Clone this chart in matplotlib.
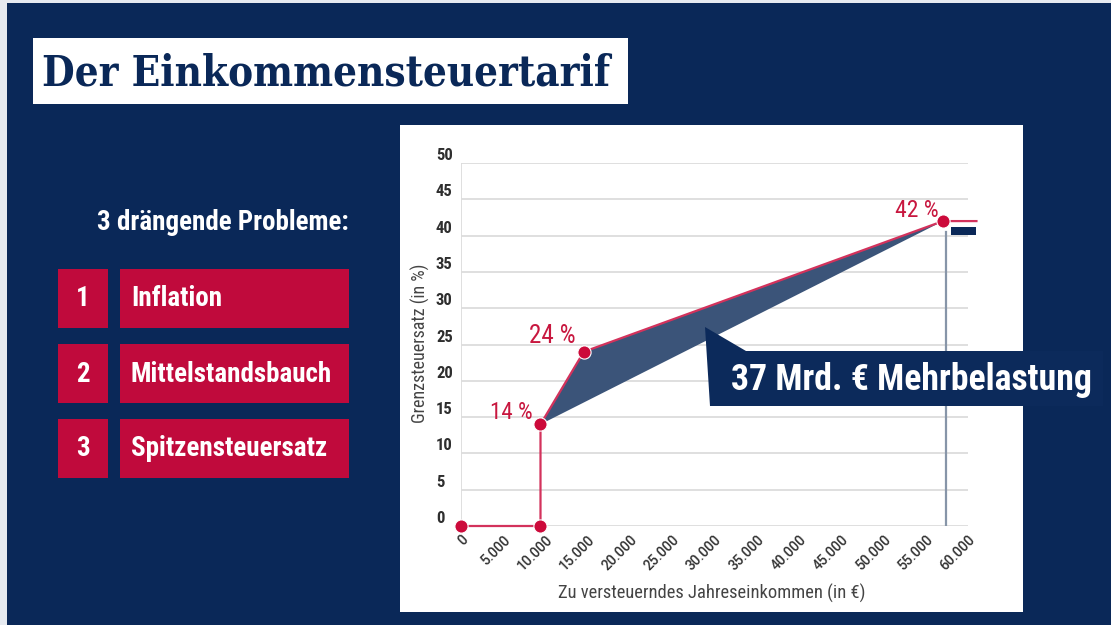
import matplotlib
matplotlib.use("Agg")
import matplotlib.pyplot as plt
from matplotlib import font_manager as fm
from matplotlib.patches import Rectangle, Polygon

# ---------------- data ----------------
income = [0, 9408, 9408, 14532, 57051]          # € (Eckwerte)
rate = [0, 0, 14, 24, 42]                        # Grenzsteuersatz in %
top_rate_end = 61000                             # line continues at 42 %
ref_line_x = 57400                               # grey reference line
point_labels = ["", "", "14 %", "24 %", "42 %"]
x_ticks = list(range(0, 60001, 5000))
x_tick_labels = ["0", "5.000", "10.000", "15.000", "20.000", "25.000", "30.000",
                 "35.000", "40.000", "45.000", "50.000", "55.000", "60.000"]
y_ticks = list(range(0, 51, 5))
problems = ["Inflation", "Mittelstandsbauch", "Spitzensteuersatz"]
problem_nums = ["1", "2", "3"]
title = "Der Einkommensteuertarif"
subtitle = "3 drängende Probleme:"
callout = "37 Mrd. € Mehrbelastung"
xlabel = "Zu versteuerndes Jahreseinkommen (in €)"
ylabel = "Grenzsteuersatz (in %)"

# ---------------- style ----------------
names = {f.name for f in fm.fontManager.ttflist}
COND = "Roboto Condensed" if "Roboto Condensed" in names else "Roboto"
SLAB = "Roboto Slab" if "Roboto Slab" in names else "DejaVu Serif"

NAVY = "#0A2858"
RED = "#C00A3C"
LINE_RED = "#D3325C"
FILL = "#3B5479"
W, H = 1111, 625

fig = plt.figure(figsize=(W / 100, H / 100), dpi=100, facecolor=NAVY)


def fx(x):
    return x / W


def fy(y):
    return 1 - y / H


def rect(x0, y0, x1, y1, color, z=1, **kw):
    r = Rectangle((fx(x0), fy(y1)), fx(x1) - fx(x0), fy(y0) - fy(y1),
                  transform=fig.transFigure, facecolor=color, edgecolor="none",
                  zorder=z, **kw)
    fig.add_artist(r)
    return r


def ftext(x, y, s, **kw):
    return fig.text(fx(x), fy(y), s, **kw)


def fit(t, target, vertical=False):
    r = fig.canvas.get_renderer()
    bb = t.get_window_extent(r)
    cur = bb.height if vertical else bb.width
    t.set_fontsize(t.get_fontsize() * target / cur)


# light border strips of the screenshot
rect(0, 0, 7, 625, "#E6EAF0", z=-2)
rect(0, 0, 1111, 3, "#E6EAF0", z=-2)

# title box
rect(33, 38, 628, 104, "white", z=-1)
t_title = ftext(42, 73, title, family=SLAB, fontweight="bold", color=NAVY,
                fontstretch="condensed", fontsize=28, va="center", ha="left")

# left problem list
t_sub = ftext(97, 222, subtitle, family=COND, fontweight="bold", color="white",
              fontsize=17, va="center", ha="left")
row_tops = [269, 344, 419]
item_texts = []
num_texts = []
for top, num, lab in zip(row_tops, problem_nums, problems):
    rect(58, top, 108, top + 59, RED, z=-1)
    rect(120, top, 349, top + 59, RED, z=-1)
    num_texts.append(ftext(83, top + 30, num, family=COND, fontweight="bold",
                           color="white", fontsize=17, va="center", ha="center"))
    item_texts.append(ftext(131, top + 30, lab, family=COND, fontweight="bold",
                            color="white", fontsize=17, va="center", ha="left"))

# white chart panel
rect(400, 125, 1023, 612, "white", z=-1)

# ---------------- chart ----------------
ax = fig.add_axes([fx(461), fy(526), fx(968) - fx(461), fy(163) - fy(526)])
ax.set_facecolor("none")
ax.set_xlim(0, 60000)
ax.set_ylim(0, 50)
for s in ax.spines.values():
    s.set_visible(False)
ax.set_yticks(y_ticks)
ax.set_xticks(x_ticks)
ax.set_xticklabels(x_tick_labels)
ax.grid(axis="y", color="#DCDCDC", lw=1.3)
ax.axvline(0, color="#DCDCDC", lw=1.3, zorder=0)
ax.set_axisbelow(True)
ax.tick_params(axis="both", length=0)
ax.tick_params(axis="y", pad=18)
ax.tick_params(axis="x", pad=5)
for lab in ax.get_yticklabels():
    lab.set_horizontalalignment("left")
    lab.set_verticalalignment("bottom")
    lab.set_family(COND)
    lab.set_fontweight("bold")
    lab.set_color("#2E2E2E")
    lab.set_fontsize(12)
for lab in ax.get_xticklabels():
    lab.set_rotation(45)
    lab.set_rotation_mode("anchor")
    lab.set_horizontalalignment("right")
    lab.set_verticalalignment("top")
    lab.set_family("Roboto")
    lab.set_fontweight("medium")
    lab.set_color("#333333")
    lab.set_fontsize(10)

# shaded extra burden between kinked tariff and straight line
ax.fill(income[2:], rate[2:], color=FILL, lw=0, zorder=2)

# reference line
ax.plot([ref_line_x, ref_line_x], [0, rate[-1] - 1.5], color="#8795A8", lw=1.6, zorder=2)

# tariff line
ax.plot(income + [top_rate_end], rate + [rate[-1]], color=LINE_RED, lw=1.6,
        zorder=3, clip_on=False)
ax.plot(income, rate, ls="none", marker="o", ms=9.5, color="#CC0A3A",
        mec="white", mew=0.8, zorder=4, clip_on=False)

offsets = {2: (-8, 12), 3: (-8, 16), 4: (-4, 11)}
pct_texts = []
for i, (x, y, s) in enumerate(zip(income, rate, point_labels)):
    if s:
        dx, dy = offsets[i]
        pct_texts.append(ax.annotate(s, (x, y), xytext=(dx, dy),
                                     textcoords="offset pixels", ha="right",
                                     va="center", family=COND, fontsize=14,
                                     color="#C8173F", zorder=5))

# small dark legend mark
rect(951, 227, 976, 235, NAVY, z=3)

# axis labels
t_xl = ftext(712, 593, xlabel, family=COND, fontsize=10.5, color="#444444",
             ha="center", va="center")
t_yl = ftext(420, 343, ylabel, family=COND, fontsize=10.5, color="#444444",
             ha="center", va="center", rotation=90)

# callout
poly = Polygon([(fx(705), fy(327)), (fx(746), fy(351)), (fx(1103), fy(351)),
                (fx(1103), fy(406)), (fx(710), fy(406))], closed=True,
               transform=fig.transFigure, facecolor="#0C2A5B", edgecolor="none",
               zorder=5)
fig.add_artist(poly)
t_call = ftext(731, 380, callout, family=COND, fontweight="bold", color="white",
               fontsize=24, va="center", ha="left", zorder=6)

# fit text widths to the reference
fig.canvas.draw()
fit(t_title, 568)
fit(t_sub, 252)
for t, w in zip(item_texts, [91, 201, 196]):
    fit(t, w)
for t in num_texts:
    t.set_fontsize(item_texts[1].get_fontsize())
fit(t_call, 362)
fit(t_xl, 309)
fit(t_yl, 161, vertical=True)
for t, w in zip(pct_texts, [43, 47, 44]):
    fit(t, w)

fig.savefig("out.png", dpi=100, facecolor=NAVY)
